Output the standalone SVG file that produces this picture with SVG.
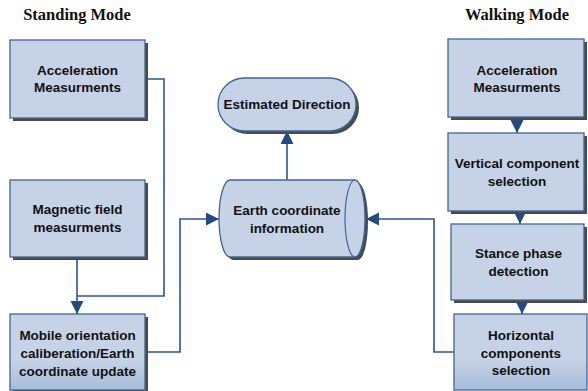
<svg xmlns="http://www.w3.org/2000/svg" width="588" height="391" viewBox="0 0 588 391">
  <style>
    .box { fill: #c6d3e6; stroke: #3f6697; stroke-width: 1.3; }
    .boxg { fill: url(#g); stroke: #3f6697; stroke-width: 1.3; }
    .sh { fill: #4a4a4a; }
    .t { font-family: "Liberation Sans", Arial, sans-serif; font-weight: bold; font-size: 13.5px; fill: #111; text-anchor: middle; }
    .title { font-family: "Liberation Serif", "Times New Roman", serif; font-weight: bold; font-size: 16.5px; fill: #111; text-anchor: middle; }
    .c { fill: none; stroke: #2c5592; stroke-width: 1.6; }
  </style>
  <defs>
    <linearGradient id="g" x1="0" y1="0" x2="0" y2="1">
      <stop offset="0.6" stop-color="#c6d3e6"/>
      <stop offset="1" stop-color="#a7bcda"/>
    </linearGradient>
    <marker id="ah" markerUnits="userSpaceOnUse" markerWidth="14" markerHeight="14" refX="13" refY="6.5" orient="auto">
      <path d="M0,0 L13,6.5 L0,13 Z" fill="#234a82"/>
    </marker>
  </defs>

  <text class="title" x="77" y="20">Standing Mode</text>
  <text class="title" x="517" y="20">Walking Mode</text>

  <g id="connectors">
    <path class="c" d="M145,79 H164 V296 H77"/>
    <path class="c" d="M77,257 V314" marker-end="url(#ah)"/>
    <path class="c" d="M145,352 H180 V219 H219" marker-end="url(#ah)"/>
    <path class="c" d="M287,180 V131" marker-end="url(#ah)"/>
    <path class="c" d="M454,352 H434 V219 H366" marker-end="url(#ah)"/>
    <path class="c" d="M517,117 V133" marker-end="url(#ah)"/>
    <path class="c" d="M520,211 V224" marker-end="url(#ah)"/>
    <path class="c" d="M522,300 V314" marker-end="url(#ah)"/>
  </g>

  <g id="s-accel">
    <rect class="sh" x="13" y="43" width="135" height="78"/>
    <rect class="box" x="10" y="40" width="135" height="78"/>
    <text class="t" x="77.5" y="75">Acceleration</text>
    <text class="t" x="77.5" y="92">Measurments</text>
  </g>

  <g id="s-mag">
    <rect class="sh" x="13" y="183" width="135" height="77"/>
    <rect class="box" x="10" y="180" width="135" height="77"/>
    <text class="t" x="77.5" y="214">Magnetic field</text>
    <text class="t" x="77.5" y="232">measurments</text>
  </g>

  <g id="s-orient">
    <rect class="sh" x="13" y="317" width="135" height="76"/>
    <rect class="boxg" x="10" y="314" width="135" height="76"/>
    <text class="t" x="77.5" y="340">Mobile orientation</text>
    <text class="t" x="77.5" y="358">caliberation/Earth</text>
    <text class="t" x="77.5" y="376">coordinate update</text>
  </g>

  <g id="direction">
    <rect class="sh" x="221" y="81" width="138" height="53" rx="26.5"/>
    <rect class="box" x="218" y="78" width="138" height="53" rx="26.5"/>
    <text class="t" x="287" y="109">Estimated Direction</text>
  </g>

  <g id="earth">
    <path class="sh" d="M233,183 L358,183 A10,38.5 0 0 1 358,260 L233,260 A11,38.5 0 0 1 233,183 Z"/>
    <path class="box" d="M230,180 L355,180 A10,38.5 0 0 1 355,257 L230,257 A11,38.5 0 0 1 230,180 Z"/>
    <path fill="none" stroke="#3f6697" stroke-width="1.2" d="M355,180 A10,38.5 0 0 0 355,257"/>
    <text class="t" x="287" y="215">Earth coordinate</text>
    <text class="t" x="287" y="233">information</text>
  </g>

  <g id="w-accel">
    <rect class="sh" x="451" y="42" width="136" height="78"/>
    <rect class="box" x="448" y="39" width="136" height="78"/>
    <text class="t" x="517" y="75">Acceleration</text>
    <text class="t" x="517" y="92">Measurments</text>
  </g>

  <g id="w-vertical">
    <rect class="sh" x="451" y="136" width="136" height="78"/>
    <rect class="box" x="448" y="133" width="136" height="78"/>
    <text class="t" x="517" y="168">Vertical component</text>
    <text class="t" x="517" y="186">selection</text>
  </g>

  <g id="w-stance">
    <rect class="sh" x="454" y="227" width="133" height="76"/>
    <rect class="box" x="451" y="224" width="133" height="76"/>
    <text class="t" x="518.5" y="258">Stance phase</text>
    <text class="t" x="518.5" y="276">detection</text>
  </g>

  <g id="w-horizontal">
    <rect class="boxg" x="454" y="314" width="133" height="76"/>
    <text class="t" x="521" y="340">Horizontal</text>
    <text class="t" x="521" y="358">components</text>
    <text class="t" x="521" y="375">selection</text>
  </g>
</svg>
